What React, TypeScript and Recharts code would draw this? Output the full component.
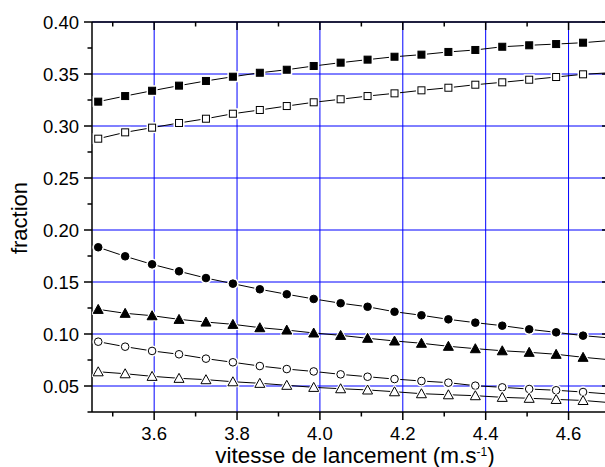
import React from 'react';
import { LineChart, Line, XAxis, YAxis, CartesianGrid } from 'recharts';

// launch speed (m/s); last entry is the end of the drawn lines at the right axis (no marker)
const xValues = [3.465, 3.53, 3.595, 3.66, 3.725, 3.79, 3.855, 3.92, 3.985, 4.05, 4.115, 4.18, 4.245, 4.31, 4.375, 4.44, 4.505, 4.57, 4.635, 4.7];

const filledSquares = [0.3234, 0.3288, 0.3339, 0.3388, 0.3433, 0.3474, 0.3512, 0.3541, 0.3577, 0.3609, 0.3638, 0.3666, 0.3686, 0.3712, 0.3731, 0.3762, 0.3776, 0.3788, 0.3801, 0.3822];
const openSquares = [0.2878, 0.2939, 0.2984, 0.3029, 0.307, 0.3118, 0.3154, 0.3192, 0.3228, 0.3257, 0.3288, 0.3314, 0.3343, 0.3368, 0.3397, 0.342, 0.3445, 0.3471, 0.3497, 0.3512];
const filledCircles = [0.1834, 0.1747, 0.167, 0.1603, 0.1538, 0.1484, 0.143, 0.1382, 0.1337, 0.1296, 0.1262, 0.1214, 0.118, 0.1141, 0.1109, 0.108, 0.1045, 0.1016, 0.0984, 0.0962];
const filledTriangles = [0.1237, 0.1199, 0.1176, 0.1141, 0.1115, 0.1093, 0.1061, 0.1038, 0.101, 0.0987, 0.0959, 0.0933, 0.0911, 0.0882, 0.0859, 0.0839, 0.0824, 0.0805, 0.0776, 0.0752];
const openCircles = [0.0926, 0.0878, 0.0837, 0.0805, 0.0763, 0.0728, 0.0692, 0.0663, 0.064, 0.0612, 0.0589, 0.0567, 0.0548, 0.0532, 0.0503, 0.0487, 0.0471, 0.0459, 0.0442, 0.0422];
const openTriangles = [0.0637, 0.0618, 0.0593, 0.0574, 0.0561, 0.0541, 0.0526, 0.0507, 0.0487, 0.0474, 0.0462, 0.0445, 0.0426, 0.0416, 0.0407, 0.0391, 0.0382, 0.0371, 0.0361, 0.034];

const xMajorTicks = [3.6, 3.8, 4.0, 4.2, 4.4, 4.6];
const xMinorTicks = [3.5, 3.7, 3.9, 4.1, 4.3, 4.5, 4.7];
const yMajorTicks = [0.05, 0.1, 0.15, 0.2, 0.25, 0.3, 0.35, 0.4];
const yMinorTicks = [0.025, 0.075, 0.125, 0.175, 0.225, 0.275, 0.325, 0.375];

const X_DOMAIN: [number, number] = [3.45, 4.7];
const Y_DOMAIN: [number, number] = [0.025, 0.4];

const xAllTicks = [...xMajorTicks, ...xMinorTicks].sort((a, b) => a - b);
const yAllTicks = [...yMajorTicks, ...yMinorTicks].sort((a, b) => a - b);

const data = xValues.map((x, i) => ({
  x,
  s1: filledSquares[i],
  s2: openSquares[i],
  s3: filledCircles[i],
  s4: filledTriangles[i],
  s5: openCircles[i],
  s6: openTriangles[i],
}));
const LAST = xValues.length - 1;

const FONT = '"Liberation Sans", Arial, Helvetica, sans-serif';
const AX = '#000';
const AXW = 1.5;

const isMajor = (v: number, majors: number[]) => majors.some((m) => Math.abs(m - v) < 1e-6);

function makeTick(side: 'bottom' | 'top' | 'left' | 'right', majors: number[], showLabel: boolean, digits: number) {
  return (props: any) => {
    const { x, y, payload } = props;
    const v = payload.value as number;
    const major = isMajor(v, majors);
    const len = major ? 8 : 4.5;
    let line: React.ReactNode = null;
    let label: React.ReactNode = null;
    if (side === 'bottom') {
      line = <line x1={x} y1={y} x2={x} y2={y + len} stroke={AX} strokeWidth={AXW} />;
      if (major && showLabel)
        label = (
          <text x={x} y={y + 28} textAnchor="middle" fontSize={18.5} fontFamily={FONT} fill="#000">
            {v.toFixed(digits)}
          </text>
        );
    } else if (side === 'top') {
      line = <line x1={x} y1={y} x2={x} y2={y + len} stroke={AX} strokeWidth={AXW} />;
    } else if (side === 'left') {
      line = <line x1={x - len} y1={y} x2={x} y2={y} stroke={AX} strokeWidth={AXW} />;
      if (major && showLabel)
        label = (
          <text x={x - 13} y={y} dy="0.355em" textAnchor="end" fontSize={18.5} fontFamily={FONT} fill="#000">
            {v.toFixed(digits)}
          </text>
        );
    } else {
      line = <line x1={x - len} y1={y} x2={x} y2={y} stroke={AX} strokeWidth={AXW} />;
    }
    return (
      <g>
        {line}
        {label}
      </g>
    );
  };
}

type Shape = 'square' | 'squareOpen' | 'circle' | 'circleOpen' | 'triangle' | 'triangleOpen';

function makeDot(shape: Shape) {
  return (props: any) => {
    const { cx, cy, index } = props;
    if (index === LAST || cx == null || cy == null) return <g key={`e${index}`} />;
    const open = shape.endsWith('Open');
    const fill = open ? '#fff' : '#000';
    const k = `d${index}`;
    if (shape.startsWith('square')) {
      const s = 8;
      return (
        <g key={k}>
          <rect x={cx - s / 2} y={cy - s / 2} width={s} height={s} fill="#fff" stroke="#fff" strokeWidth={3} />
          <rect x={cx - s / 2 + 0.5} y={cy - s / 2 + 0.5} width={s - 1} height={s - 1} fill={fill} stroke="#000" strokeWidth={1} />
        </g>
      );
    }
    if (shape.startsWith('circle')) {
      const r = 4.3;
      return (
        <g key={k}>
          <circle cx={cx} cy={cy} r={r} fill="#fff" stroke="#fff" strokeWidth={3} />
          <circle cx={cx} cy={cy} r={r - 0.5} fill={fill} stroke="#000" strokeWidth={1} />
        </g>
      );
    }
    const w = 10;
    const h = 9;
    const pts = `${cx},${cy - h * 0.55} ${cx + w / 2},${cy + h * 0.45} ${cx - w / 2},${cy + h * 0.45}`;
    return (
      <g key={k}>
        <polygon points={pts} fill="#fff" stroke="#fff" strokeWidth={3} strokeLinejoin="round" />
        <polygon points={pts} fill={fill} stroke="#000" strokeWidth={1} strokeLinejoin="miter" />
      </g>
    );
  };
}

const series: { key: string; shape: Shape }[] = [
  { key: 's1', shape: 'square' },
  { key: 's2', shape: 'squareOpen' },
  { key: 's3', shape: 'circle' },
  { key: 's4', shape: 'triangle' },
  { key: 's5', shape: 'circleOpen' },
  { key: 's6', shape: 'triangleOpen' },
];

export default function App() {
  return (
    <div style={{ position: 'absolute', left: 0, top: 0, width: 605, height: 467, overflow: 'hidden', background: '#fff' }}>
      <LineChart width={620} height={467} data={data} margin={{ top: 21, right: 9, bottom: 0, left: 0 }}>
        <CartesianGrid stroke="#0000ff" strokeWidth={1} horizontalValues={yMajorTicks} verticalValues={xMajorTicks} />
        <XAxis
          type="number"
          dataKey="x"
          domain={X_DOMAIN}
          allowDataOverflow
          ticks={xAllTicks}
          interval={0}
          height={55}
          tickSize={0}
          tickMargin={0}
          tickLine={false}
          axisLine={{ stroke: AX, strokeWidth: AXW }}
          tick={makeTick('bottom', xMajorTicks, true, 1)}
        />
        <XAxis
          xAxisId="t"
          orientation="top"
          type="number"
          dataKey="x"
          domain={X_DOMAIN}
          allowDataOverflow
          ticks={xAllTicks}
          interval={0}
          height={1}
          tickSize={0}
          tickMargin={0}
          tickLine={false}
          axisLine={{ stroke: AX, strokeWidth: AXW }}
          tick={makeTick('top', xMajorTicks, false, 1)}
        />
        <YAxis
          type="number"
          domain={Y_DOMAIN}
          allowDataOverflow
          ticks={yAllTicks}
          interval={0}
          width={92}
          tickSize={0}
          tickMargin={0}
          tickLine={false}
          axisLine={{ stroke: AX, strokeWidth: AXW }}
          tick={makeTick('left', yMajorTicks, true, 2)}
        />
        <YAxis
          yAxisId="r"
          orientation="right"
          type="number"
          domain={Y_DOMAIN}
          allowDataOverflow
          ticks={yAllTicks}
          interval={0}
          width={1}
          tickSize={0}
          tickMargin={0}
          tickLine={false}
          axisLine={{ stroke: AX, strokeWidth: AXW }}
          tick={makeTick('right', yMajorTicks, false, 2)}
        />
        {series.map((s) => (
          <Line
            key={s.key}
            dataKey={s.key}
            stroke="#000"
            strokeWidth={1}
            dot={makeDot(s.shape)}
            activeDot={false}
            isAnimationActive={false}
            type="linear"
          />
        ))}
      </LineChart>
      <svg width={605} height={467} style={{ position: 'absolute', left: 0, top: 0, pointerEvents: 'none' }}>
        <text x={355} y={463} textAnchor="middle" fontSize={22.5} fontFamily={FONT} fill="#000">
          vitesse de lancement (m.s
          <tspan dy={-7} fontSize={12}>-1</tspan>
          <tspan dy={7}>)</tspan>
        </text>
        <text x={27} y={218} textAnchor="middle" fontSize={22} fontFamily={FONT} fill="#000" transform="rotate(-90 27 218)">
          fraction
        </text>
      </svg>
    </div>
  );
}
